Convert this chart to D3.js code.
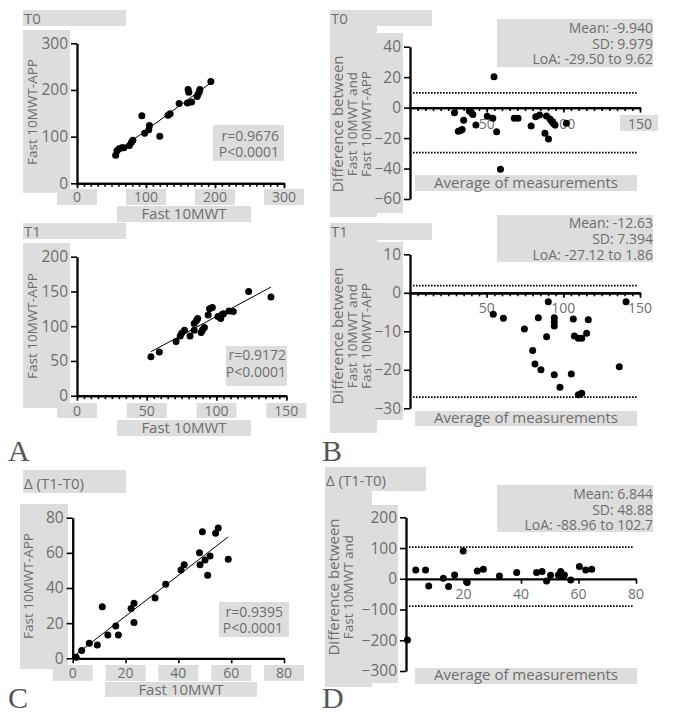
<!DOCTYPE html>
<html><head><meta charset="utf-8">
<script src="https://cdn.jsdelivr.net/npm/d3@7"></script>
<style>body{margin:0;background:#fff} text{font-family:"Open Sans",sans-serif}</style>
</head><body><svg id="c" width="677" height="720"></svg>
<script>
// ---------- DATA ----------
// Panel A, T0 : Fast 10MWT vs Fast 10MWT-APP
const aT0_x = [56,58,61,65,68,76,79,81,94,98,104,105,120,132,135,148,160,161,162,166,174,175,177,178,194];
const aT0_y = [60,70,74,76,76,81,88,92,145,107,115,124,101,146,149,171,172,201,195,174,186,190,195,201,218];
// Panel A, T1
const aT1_x = [53,59,71,74,75,77,81,84,84,85.5,86.5,89,90,91.3,94,95,97,101,103,104,105,109,112,123,139];
const aT1_y = [56,63,78,86,90,94,86,94,104,108,111,91,95,98,116,125,127,114,111,117,118,122,121,150,142];
// Panel B, T0 (Bland-Altman): average, difference
const bT0_avg  = [29,31.5,33,34,35,38.7,40,41,43,50.4,54,54.8,56.5,59,68,70.5,79,82,84.5,88,89,90.3,91.3,92.4,93.5,94.6,102];
const bT0_diff = [-3.3,-15.5,-15,-14.3,-8.3,-2.2,-3.2,-4.5,-11.4,-5.7,-7,20.3,-15.8,-40.5,-7,-7,-12,-6,-4.8,-16.8,-5.5,-20.6,-7.4,-9,-10.5,-11.4,-10.3];
const bT0_stats = {mean:"-9.940", sd:"9.979", loa:"-29.50 to 9.62"};
const bT0_loa = [-29.50, 9.62];
// Panel B, T1
const bT1_avg  = [54.3,60.9,74.6,80,81.5,83.7,85.4,89.1,90.2,94.1,94.1,94.1,94.1,97.8,105.2,106.5,107.2,109.8,112,109.8,112,115.2,116.3,136.5,140.9];
const bT1_diff = [-5.6,-6.6,-9.4,-15,-18.5,-6.5,-20,-11.4,-2.3,-6.5,-7.5,-8.6,-21.3,-24.5,-21.1,-6.8,-11.2,-11.8,-11.8,-26.5,-26.1,-10.5,-7,-19.2,-2.3];
const bT1_stats = {mean:"-12.63", sd:"7.394", loa:"-27.12 to 1.86"};
const bT1_loa = [-27.12, 1.86];
// Panel C, delta (T1-T0)
const c_x = [1.3,3.4,6.3,9.3,11.2,13.3,16.3,17.3,22.1,23.2,23.2,31.2,35.2,41,42.2,48,48.2,49.1,50.1,51.1,52,54.1,55.1,58.9];
const c_y = [0.6,4.4,8.5,7.6,29.4,13.3,18.4,13.3,28.4,31.3,20.3,34.3,42.1,50.2,53.3,60.1,53.3,72,55.9,47.2,58.2,71.1,74.1,56.3];
// Panel D, delta Bland-Altman
const d_avg  = [0.5,3.4,6.8,7.9,13,14.8,16.9,19.9,21.3,24.8,26.9,32.5,38.5,45.4,47.3,48.9,50.3,53,53.8,54.5,55.1,57.3,60.3,62.5,64.6];
const d_diff = [-199,28.9,28.9,-23.4,1.7,-25.4,12.6,90.7,-12.4,25.6,31.1,9.3,20.2,20.2,23.4,-7,11.5,12.6,23.4,7.2,12.6,-3.7,39.7,28.9,31.1];
const d_stats = {mean:"6.844", sd:"48.88", loa:"-88.96 to 102.7"};
const d_loa = [-88.96, 102.7];
// correlation labels
const corrA0 = ["r=0.9676","P<0.0001"];
const corrA1 = ["r=0.9172","P<0.0001"];
const corrC  = ["r=0.9395","P<0.0001"];
// tick values
const ticksA0 = [0,100,200,300];
const ticksA1 = [0,50,100,150];
const ticksA1y = [0,50,100,150,200];
const ticksC = [0,20,40,60,80];
const ticksB0y = [-60,-40,-20,0,20,40];
const ticksB1y = [-30,-20,-10,0,10];
const ticksBx = [50,100,150];
const ticksDy = [-300,-200,-100,0,100,200];
const ticksDx = [20,40,60,80];

// ---------- DRAWING ----------
const svg = d3.select("#c");
const GRAY = "#dddddd", TXT = "#6e6e6e";
function box(x,y,w,h){ svg.append("rect").attr("x",x).attr("y",y).attr("width",w).attr("height",h).attr("fill",GRAY); }
function txt(x,y,s,anchor,size,fill){ return svg.append("text").attr("x",x).attr("y",y).attr("text-anchor",anchor||"start")
  .attr("font-size",size||15).attr("fill",fill||TXT).text(s); }
function rotLabel(cx,cy,lines,gap,sizes){
  const g = svg.append("g").attr("transform",`translate(${cx},${cy}) rotate(-90)`);
  const n = lines.length;
  lines.forEach((l,i)=>{ g.append("text").attr("x",0).attr("y",(i-(n-1)/2)*gap).attr("dy","0.35em")
    .attr("text-anchor","middle").attr("font-size",sizes[i]).attr("fill",TXT).text(l); });
}
function styleAxis(g){ g.select(".domain").attr("stroke","#000").attr("stroke-width",2.3);
  g.selectAll(".tick line").attr("stroke","#000").attr("stroke-width",1.6);
  g.selectAll(".tick text").attr("fill",TXT).attr("font-size",15.5).attr("font-family","Open Sans"); }

function panel(c){
  const xs = d3.scaleLinear().domain(c.xd).range(c.xr);
  const ys = d3.scaleLinear().domain(c.yd).range(c.yr);
  const axY = c.xAxisAt===undefined ? c.yr[0] : ys(c.xAxisAt);
  if(c.extraBox) box(...c.extraBox);
  // x tick labels
  c.xLabels.forEach(v=>{
    if(c.xLabelBox) box(xs(v)-20, c.xLabelBox[0], 40, c.xLabelBox[1]);
    txt(xs(v), c.xLabelBase, String(v), "middle", c.xLabelSize||14);
  });
  // dotted LoA lines
  if(c.loa) c.loa.forEach(v=>{
    svg.append("line").attr("x1",c.xr[0]+3).attr("x2",c.xr[1]-2).attr("y1",ys(v)).attr("y2",ys(v))
      .attr("stroke","#000").attr("stroke-width",1.8).attr("stroke-dasharray","1.6,1.4");
  });
  // minor ticks
  if(c.minor){
    const gm = svg.append("g").attr("transform",`translate(0,${axY})`)
      .call(d3.axisBottom(xs).tickValues(d3.range(c.xd[0],c.xd[1]+0.001,c.minor)).tickSize(3.5).tickSizeOuter(0).tickFormat(""));
    styleAxis(gm);
  }
  const gx = svg.append("g").attr("transform",`translate(0,${axY})`)
    .call(d3.axisBottom(xs).tickValues(c.xTicks).tickSize(5).tickSizeOuter(0).tickFormat(""));
  styleAxis(gx);
  const gy = svg.append("g").attr("transform",`translate(${c.xr[0]},0)`)
    .call(d3.axisLeft(ys).tickValues(c.yTicks).tickSize(6).tickPadding(3).tickSizeOuter(0));
  styleAxis(gy);
  // regression
  if(c.fit){
    const xm = d3.mean(c.px), ym = d3.mean(c.py);
    const b = d3.sum(c.px.map((x,i)=>(x-xm)*(c.py[i]-ym))) / d3.sum(c.px.map(x=>(x-xm)*(x-xm)));
    const a = ym - b*xm;
    const [x0,x1] = d3.extent(c.px);
    svg.append("line").attr("x1",xs(x0)).attr("x2",xs(x1)).attr("y1",ys(a+b*x0)).attr("y2",ys(a+b*x1))
      .attr("stroke","#000").attr("stroke-width",1);
  }
  svg.append("g").selectAll("circle").data(c.px.map((x,i)=>[x,c.py[i]])).join("circle")
    .attr("cx",d=>xs(d[0])).attr("cy",d=>ys(d[1])).attr("r",3.5).attr("fill","#000");
}

const YT = 13.5, ST = 14;
// ----- titles / boxes -----
// A T0
box(23,10,103,16); txt(24,24,"T0");
box(23,30,47,163); rotLabel(32,112,["Fast 10MWT-APP"],14,[YT]);
box(117,206,134,16); txt(184,219,"Fast 10MWT","middle");
box(213,125,71,36); txt(279,141,corrA0[0],"end",ST); txt(279,157,corrA0[1],"end",ST);
panel({xd:[0,300],xr:[77,284],yd:[0,300],yr:[183.3,43.3],xTicks:ticksA0,yTicks:ticksA0,minor:10,
  xLabels:ticksA0,xLabelBox:[189,16],xLabelBase:202,px:aT0_x,py:aT0_y,fit:true});

// A T1
box(23,223,103,16); txt(24,237,"T1");
box(23,243,47,165); rotLabel(32,326,["Fast 10MWT-APP"],14,[YT]);
box(117,420,134,16); txt(184,433,"Fast 10MWT","middle");
box(226,346,61,40); txt(286,360,corrA1[0],"end",ST); txt(286,377,corrA1[1],"end",ST);
panel({xd:[0,150],xr:[77,286.3],yd:[0,200],yr:[395.7,256.7],xTicks:ticksA1,yTicks:ticksA1y,minor:5,
  xLabels:ticksA1,xLabelBox:[403,15],xLabelBase:416,px:aT1_x,py:aT1_y,fit:true});

// C
box(23,470,103,23); txt(24,489,"Δ (T1-T0)");
box(20,504,48,165); rotLabel(28,586,["Fast 10MWT-APP"],14,[YT]);
box(105,682,152,15); txt(181,695,"Fast 10MWT","middle");
box(219,602,70,35); txt(283,617,corrC[0],"end",ST); txt(283,633,corrC[1],"end",ST);
panel({xd:[0,80],xr:[72.7,284],yd:[0,80],yr:[658.3,517.7],xTicks:ticksC,yTicks:ticksC,
  xLabels:ticksC,xLabelBox:[665,16],xLabelBase:678,px:c_x,py:c_y,fit:true});

// B T0
box(330,10,102,16); txt(331,24,"T0");
box(330,26,47,191); box(377,33,26,180);
rotLabel(352,124,["Difference between","Fast 10MWT and","Fast 10MWT-APP"],14,[15,YT,YT]);
box(415,175,222,16); txt(526,188,"Average of measurements","middle");
box(497,19,156,48);
txt(653,33,"Mean: "+bT0_stats.mean,"end",ST); txt(653,48.5,"SD: "+bT0_stats.sd,"end",ST); txt(653,64,"LoA: "+bT0_stats.loa,"end",ST);
panel({xd:[0,150],xr:[410,640],yd:[-60,40],yr:[199,46.7],xAxisAt:0,xTicks:ticksBx,yTicks:ticksB0y,minor:5,
  xLabels:ticksBx,xLabelBase:129,extraBox:[620,115,38,16],px:bT0_avg,py:bT0_diff,loa:bT0_loa});

// B T1
box(330,223,102,17); txt(331,237,"T1");
box(330,240,47,193); box(377,242,26,178);
rotLabel(352,336,["Difference between","Fast 10MWT and","Fast 10MWT-APP"],14,[15,YT,YT]);
box(415,411,222,15); txt(526,423,"Average of measurements","middle");
box(497,215,156,47);
txt(653,228,"Mean: "+bT1_stats.mean,"end",ST); txt(653,244,"SD: "+bT1_stats.sd,"end",ST); txt(653,260,"LoA: "+bT1_stats.loa,"end",ST);
panel({xd:[0,150],xr:[410,640],yd:[-30,10],yr:[408.3,254.3],xAxisAt:0,xTicks:ticksBx,yTicks:ticksB1y,minor:5,
  xLabels:ticksBx,xLabelBase:313,px:bT1_avg,py:bT1_diff,loa:bT1_loa});

// D
box(325,467,101,24); txt(326,486,"Δ (T1-T0)");
box(325,491,47,196); box(372,505,26,178);
rotLabel(341,587,["Difference between","Fast 10MWT and"],14,[15,YT]);
box(415,668,222,16); txt(526,680,"Average of measurements","middle");
box(497,485,156,47);
txt(653,499,"Mean: "+d_stats.mean,"end",ST); txt(653,515,"SD: "+d_stats.sd,"end",ST); txt(653,530,"LoA: "+d_stats.loa,"end",ST);
panel({xd:[0,80],xr:[406,636],yd:[-300,200],yr:[671,517.3],xAxisAt:0,xTicks:ticksDx,yTicks:ticksDy,
  xLabels:ticksDx,xLabelBase:599,px:d_avg,py:d_diff,loa:d_loa});

// panel letters
[["A",8,461],["B",322,461],["C",8,708],["D",322,708]].forEach(([s,x,y])=>{
  svg.append("text").attr("x",x).attr("y",y).attr("font-size",30)
    .attr("fill","#555").style("font-family","'Liberation Serif',serif").text(s);
});
</script></body></html>
